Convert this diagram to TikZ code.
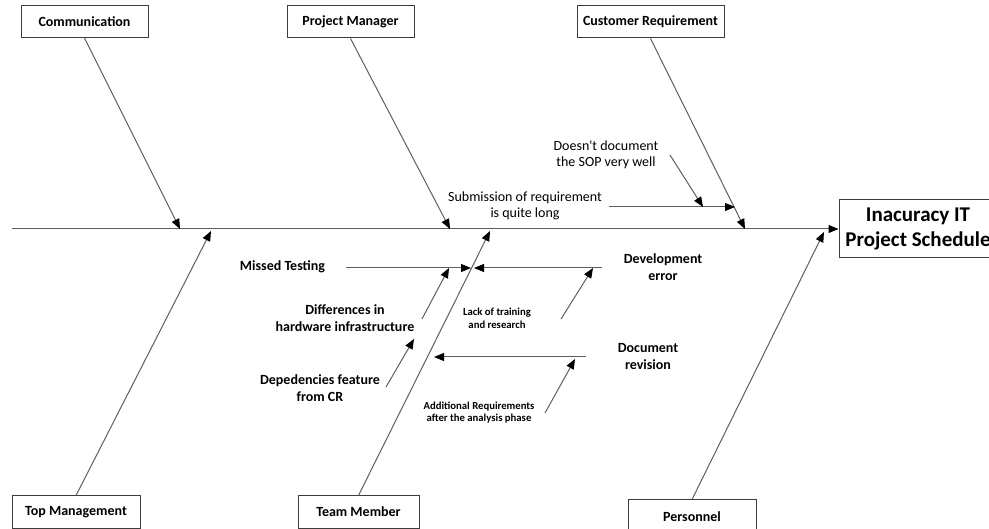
\documentclass[tikz,border=0pt]{standalone}
\usepackage{fontspec}
\setmainfont{Carlito}
\usetikzlibrary{arrows.meta}
\definecolor{linegray}{RGB}{95,95,95}
\definecolor{boxgray}{RGB}{60,60,60}
\begin{document}
\begin{tikzpicture}[x=1pt,y=-1pt,
  bone/.style={draw=linegray, line width=1pt, -{Triangle[length=10pt,width=8pt,color=black]}},
  box/.style={draw=boxgray, line width=1pt, fill=white, inner sep=0pt, minimum height=32pt, font=\bfseries\fontsize{14}{17}\selectfont},
  lbl/.style={align=center, inner sep=0pt, font=\bfseries\fontsize{14}{17}\selectfont},
  small/.style={align=center, inner sep=0pt, font=\bfseries\fontsize{10.7}{12.8}\selectfont},
  reg/.style={align=center, inner sep=0pt, font=\fontsize{14}{16}\selectfont},
  title/.style={draw=boxgray, line width=1pt, fill=white, align=center, inner sep=0pt, minimum width=158pt, minimum height=58pt, font=\bfseries\fontsize{21}{25}\selectfont}
]
\useasboundingbox (0,0) rectangle (989,529);
\fill[white] (0,0) rectangle (989,529);

% main boxes
\node[box, minimum width=127pt] (comm) at (84.5,21.5) {Communication};
\node[box, minimum width=127pt] (pm) at (350.5,22) {Project Manager};
\node[box, minimum width=147pt] (cr) at (650.5,22) {Customer Requirement};
\node[box, minimum width=128pt] (tm) at (76,512) {Top Management};
\node[box, minimum width=121pt] (team) at (358.5,512) {Team Member};
\node[box, minimum width=128pt, minimum height=34pt] (pers) at (692,517) {Personnel};
\node[title] (effect) at (918,229) {Inacuracy IT\\Project Schedule};

% spine
\coordinate (spstart) at (12,229);
\draw[bone] (spstart) -- (effect.west);

% bone tips on spine
\coordinate (tcomm) at (180,229);
\coordinate (tpm) at (450,229);
\coordinate (tcr) at (745,229);
\coordinate (ttm) at (211,231);
\coordinate (tteam) at (490,231);
\coordinate (tpers) at (824,232);

\draw[bone] (comm.south) -- (tcomm);
\draw[bone] (pm.south) -- (tpm);
\draw[bone] (cr.south) -- (tcr);
\draw[bone] (tm.north) -- (ttm);
\draw[bone] (team.north) -- (tteam);
\draw[bone] (pers.north) -- (tpers);

% sub-cause labels
\node[reg] (sub1) at (525,206) {Submission of requirement\\is quite long};
\node[reg] (sub2) at (606,155) {Doesn\textquotesingle t document\\the SOP very well};
\node[lbl] (mt) at (282.5,267) {Missed Testing};
\node[lbl] (de) at (663,267.5) {Development\\error};
\node[small] (lt) at (497,318) {Lack of training\\and research};
\node[lbl] (dh) at (345,318) {Differences in\\hardware infrastructure};
\node[lbl] (dc) at (320,388) {Depedencies feature\\from CR};
\node[lbl] (dr) at (648,357) {Document\\revision};
\node[small] (ar) at (479,412.5) {Additional Requirements\\after the analysis phase};

% sub-cause arrow coordinates
\coordinate (s1a) at (609,207);  \coordinate (s1b) at (735,207);
\coordinate (s2a) at (670,155);  \coordinate (s2b) at (703,207);
\coordinate (mta) at (346,268);  \coordinate (mtb) at (471,268);
\coordinate (dea) at (602,268);  \coordinate (deb) at (474,268);
\coordinate (lta) at (561,319);  \coordinate (ltb) at (593,268);
\coordinate (dha) at (422,319);  \coordinate (dhb) at (449,268);
\coordinate (dca) at (386,387);  \coordinate (dcb) at (414,339);
\coordinate (dra) at (586,357);  \coordinate (drb) at (434,357);
\coordinate (ara) at (545,413);  \coordinate (arb) at (575,359);

\draw[bone] (s1a) -- (s1b);
\draw[bone] (s2a) -- (s2b);
\draw[bone] (mta) -- (mtb);
\draw[bone] (dea) -- (deb);
\draw[bone] (lta) -- (ltb);
\draw[bone] (dha) -- (dhb);
\draw[bone] (dca) -- (dcb);
\draw[bone] (dra) -- (drb);
\draw[bone] (ara) -- (arb);
\end{tikzpicture}
\end{document}
